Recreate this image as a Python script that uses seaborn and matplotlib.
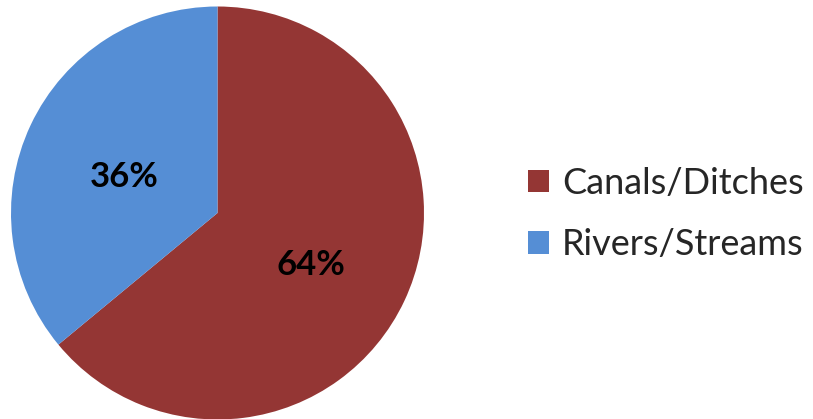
import seaborn as sns
from matplotlib import pyplot as plt
from matplotlib.patches import Patch

categories = ["Canals/Ditches", "Rivers/Streams"]
shares = [64, 36]
colors = ["#943634", "#558ED5"]

sns.set_theme(style="white")
plt.rcParams["font.family"] = ["Lato", "DejaVu Sans"]

fig = plt.figure(figsize=(8.13, 4.19), dpi=100)
ax = fig.add_axes([11 / 813, -0.5 / 419, 413 / 813, 413 / 419])

wedges, texts, autotexts = ax.pie(
    shares, colors=colors, startangle=90, counterclock=False,
    autopct="%1.0f%%", pctdistance=0.5, radius=1.0,
    wedgeprops=dict(linewidth=0),
    textprops=dict(fontsize=25, fontweight="bold", color="black"),
)
# Excel places the percentage labels a little lower than the wedge centroid
for t in autotexts:
    x, y = t.get_position()
    t.set_position((x, y - 0.04))

ax.set_xlim(-1, 1)
ax.set_ylim(-1, 1)
ax.set_aspect("equal")
ax.axis("off")

handles = [Patch(facecolor=c, edgecolor="none") for c in colors]
fig.legend(
    handles, categories, loc="center left", bbox_to_anchor=(528 / 813, 1 - 214 / 419),
    frameon=False, fontsize=26, handlelength=0.58, handleheight=0.58,
    handletextpad=0.36, labelspacing=0.8, borderaxespad=0, borderpad=0,
)

fig.savefig("out.png", dpi=100)
